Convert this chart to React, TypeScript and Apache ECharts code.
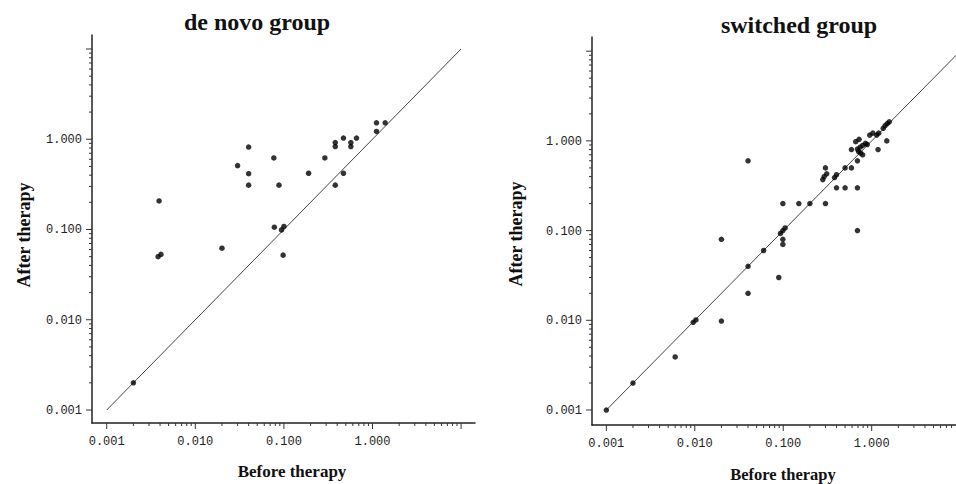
import React, { useEffect, useRef } from "react";
import * as echarts from "echarts";

// ---------- data ----------
const panelTitles = ["de novo group", "switched group"];
const xAxisTitle = "Before therapy";
const yAxisTitle = "After therapy";

const majorTicks = [0.001, 0.01, 0.1, 1, 10];
const majorTickLabels = ["0.001", "0.010", "0.100", "1.000", ""];
const minorMultipliers = [2, 3, 4, 5, 6, 7, 8, 9];

const deNovoBefore = [
  0.002, 0.0039, 0.0038, 0.0041, 0.02, 0.03, 0.04, 0.04, 0.04, 0.077, 0.078,
  0.088, 0.094, 0.1, 0.098, 0.19, 0.29, 0.38, 0.38, 0.38, 0.47, 0.47, 0.57,
  0.57, 0.66, 1.11, 1.11, 1.39,
];
const deNovoAfter = [
  0.002, 0.207, 0.05, 0.053, 0.062, 0.51, 0.82, 0.415, 0.31, 0.62, 0.106,
  0.31, 0.099, 0.108, 0.052, 0.42, 0.62, 0.92, 0.83, 0.31, 1.03, 0.42, 0.92,
  0.83, 1.03, 1.52, 1.22, 1.52,
];

const switchedBefore = [
  0.001, 0.002, 0.006, 0.0096, 0.0103, 0.02, 0.02, 0.04, 0.04, 0.04, 0.06,
  0.089, 0.093, 0.099, 0.105, 0.099, 0.099, 0.099, 0.15, 0.2, 0.3, 0.28, 0.29,
  0.31, 0.3, 0.38, 0.4, 0.4, 0.5, 0.5, 0.59, 0.69, 0.69, 0.69, 0.59, 0.66,
  0.72, 0.69, 0.74, 0.79, 0.85, 0.89, 0.71, 0.75, 0.79, 0.95, 1.03, 1.14, 1.2,
  1.18, 1.35, 1.42, 1.5, 1.58, 1.48,
];
const switchedAfter = [
  0.001, 0.002, 0.0039, 0.0095, 0.0101, 0.0098, 0.08, 0.04, 0.02, 0.6, 0.06,
  0.03, 0.093, 0.1, 0.107, 0.08, 0.07, 0.2, 0.2, 0.2, 0.2, 0.37, 0.4, 0.43,
  0.5, 0.39, 0.42, 0.3, 0.3, 0.5, 0.5, 0.3, 0.6, 0.1, 0.8, 0.98, 1.04, 0.81,
  0.85, 0.89, 0.94, 0.91, 0.76, 0.73, 0.7, 1.16, 1.22, 1.16, 1.22, 0.8, 1.38,
  1.48, 1.56, 1.63, 1.0,
];

const identityLine = [0.001, 10];

// ---------- layout ----------
const panels = [
  {
    grid: { left: 92, top: 35, width: 383, height: 388 },
    xLog: [-3.166, 1.157],
    yLog: [-3.144, 1.155],
    title: { x: 257, y: 22 },
    xName: { x: 292, y: 471, size: 17 },
    yName: { x: 24, y: 235 },
    before: deNovoBefore,
    after: deNovoAfter,
  },
  {
    grid: { left: 592, top: 37, width: 364, height: 388 },
    xLog: [-3.162, 0.953],
    yLog: [-3.167, 1.158],
    title: { x: 799, y: 25 },
    xName: { x: 783, y: 474, size: 16.5 },
    yName: { x: 516, y: 234 },
    before: switchedBefore,
    after: switchedAfter,
  },
];

const TICK_COLOR = "#333";
const LABEL_FONT = '12px "Liberation Mono", "DejaVu Sans Mono", monospace';
const SERIF = '"Liberation Serif", "DejaVu Serif", serif';

function tickItems(min: number, max: number) {
  const out: number[][] = [];
  majorTicks.forEach((m, i) => {
    if (m >= min * 0.999 && m <= max * 1.001) out.push([m, 1, i]);
    minorMultipliers.forEach((k) => {
      const v = m * k;
      if (v >= min && v <= max) out.push([v, 0, -1]);
    });
  });
  return out;
}

export default function App() {
  const ref = useRef<HTMLDivElement>(null);

  useEffect(() => {
    if (!ref.current) return;
    const chart = echarts.init(ref.current, undefined, { renderer: "svg" });

    const grids: any[] = [];
    const xAxes: any[] = [];
    const yAxes: any[] = [];
    const series: any[] = [];
    const graphics: any[] = [];

    panels.forEach((p, g) => {
      const xMin = Math.pow(10, p.xLog[0]);
      const xMax = Math.pow(10, p.xLog[1]);
      const yMin = Math.pow(10, p.yLog[0]);
      const yMax = Math.pow(10, p.yLog[1]);

      grids.push({ ...p.grid, containLabel: false });
      const axisCommon = {
        type: "log",
        logBase: 10,
        gridIndex: g,
        axisLine: { show: true, onZero: false, lineStyle: { color: "#222", width: 1.5 } },
        axisTick: { show: false },
        axisLabel: { show: false },
        splitLine: { show: false },
        minorTick: { show: false },
      };
      xAxes.push({ ...axisCommon, min: xMin, max: xMax });
      yAxes.push({ ...axisCommon, min: yMin, max: yMax });

      // identity line
      series.push({
        type: "line",
        xAxisIndex: g,
        yAxisIndex: g,
        data: identityLine.map((v) => [v, v]),
        symbol: "none",
        lineStyle: { color: "#444", width: 1 },
        silent: true,
        z: 2,
      });

      // points
      series.push({
        type: "scatter",
        xAxisIndex: g,
        yAxisIndex: g,
        data: p.before.map((b, i) => [b, p.after[i]]),
        symbol: "circle",
        symbolSize: 5.5,
        itemStyle: { color: "#000" },
        z: 3,
      });

      // x ticks
      const xt = tickItems(xMin, xMax);
      series.push({
        type: "custom",
        xAxisIndex: g,
        yAxisIndex: g,
        silent: true,
        clip: false,
        encode: { x: 0, y: 1 },
        data: xt.map((t) => [t[0], yMin, t[1], t[2]]),
        renderItem: (_params: any, api: any) => {
          const pt = api.coord([api.value(0), api.value(1)]);
          const major = api.value(2) === 1;
          const idx = api.value(3);
          const len = major ? 6 : 3;
          const children: any[] = [
            {
              type: "line",
              shape: { x1: pt[0], y1: pt[1], x2: pt[0], y2: pt[1] + len },
              style: { stroke: TICK_COLOR, lineWidth: 1 },
            },
          ];
          if (major && idx >= 0 && majorTickLabels[idx]) {
            children.push({
              type: "text",
              style: {
                text: majorTickLabels[idx],
                x: pt[0],
                y: pt[1] + 19,
                textAlign: "center",
                textVerticalAlign: "middle",
                verticalAlign: "middle",
                font: LABEL_FONT,
                fill: "#222",
              },
            });
          }
          return { type: "group", children };
        },
      });

      // y ticks
      const yt = tickItems(yMin, yMax);
      series.push({
        type: "custom",
        xAxisIndex: g,
        yAxisIndex: g,
        silent: true,
        clip: false,
        encode: { x: 0, y: 1 },
        data: yt.map((t) => [xMin, t[0], t[1], t[2]]),
        renderItem: (_params: any, api: any) => {
          const pt = api.coord([api.value(0), api.value(1)]);
          const major = api.value(2) === 1;
          const idx = api.value(3);
          const len = major ? 6 : 3;
          const children: any[] = [
            {
              type: "line",
              shape: { x1: pt[0] - len, y1: pt[1], x2: pt[0], y2: pt[1] },
              style: { stroke: TICK_COLOR, lineWidth: 1 },
            },
          ];
          if (major && idx >= 0 && majorTickLabels[idx]) {
            children.push({
              type: "text",
              style: {
                text: majorTickLabels[idx],
                x: pt[0] - 10,
                y: pt[1] + 1,
                textAlign: "right",
                textVerticalAlign: "middle",
                verticalAlign: "middle",
                font: LABEL_FONT,
                fill: "#222",
              },
            });
          }
          return { type: "group", children };
        },
      });

      // titles
      graphics.push({
        type: "text",
        x: p.title.x,
        y: p.title.y,
        style: {
          text: panelTitles[g],
          font: `bold 24px ${SERIF}`,
          fill: "#111",
          textAlign: "center",
          textVerticalAlign: "middle",
          verticalAlign: "middle",
        },
      });
      graphics.push({
        type: "text",
        x: p.xName.x,
        y: p.xName.y,
        style: {
          text: xAxisTitle,
          font: `bold ${p.xName.size}px ${SERIF}`,
          fill: "#111",
          textAlign: "center",
          textVerticalAlign: "middle",
          verticalAlign: "middle",
        },
      });
      graphics.push({
        type: "text",
        x: p.yName.x,
        y: p.yName.y,
        rotation: Math.PI / 2,
        style: {
          text: yAxisTitle,
          font: `bold 18px ${SERIF}`,
          fill: "#111",
          textAlign: "center",
          textVerticalAlign: "middle",
          verticalAlign: "middle",
        },
      });
    });

    chart.setOption({
      animation: false,
      backgroundColor: "#ffffff",
      grid: grids,
      xAxis: xAxes,
      yAxis: yAxes,
      series,
      graphic: graphics,
    });

    return () => chart.dispose();
  }, []);

  return (
    <div
      ref={ref}
      style={{ position: "fixed", left: 0, top: 0, width: 956, height: 484, background: "#fff" }}
    />
  );
}
